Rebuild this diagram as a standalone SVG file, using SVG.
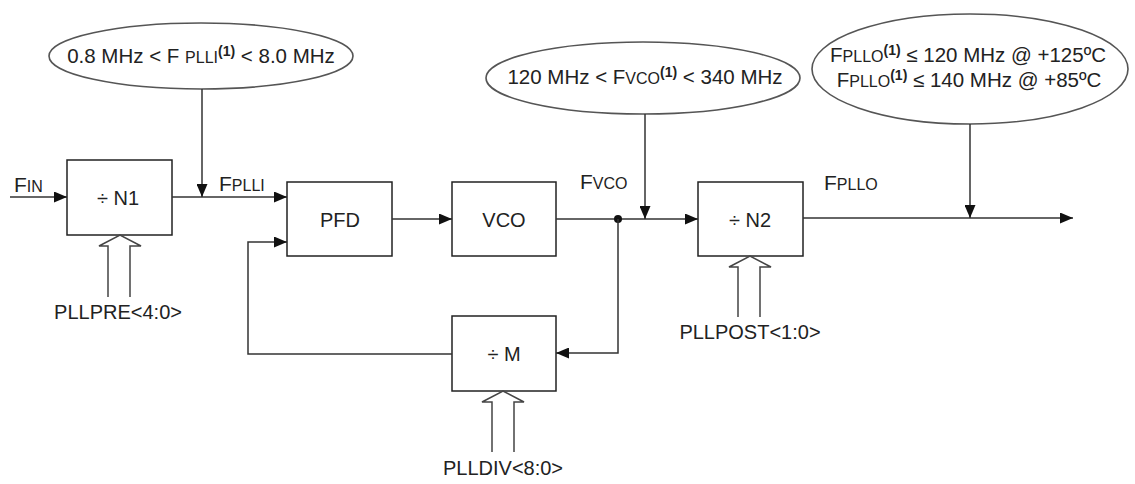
<svg xmlns="http://www.w3.org/2000/svg" width="1135" height="484" viewBox="0 0 1135 484">
<style>
.box{fill:#fff;stroke:#222;stroke-width:1.5}
.ell{fill:#fff;stroke:#555;stroke-width:1.6}
.ln{fill:none;stroke:#333;stroke-width:1.5}
.bus{fill:#fff;stroke:#444;stroke-width:1.5;stroke-linejoin:miter}
text{font-family:"Liberation Sans",Arial,sans-serif;fill:#222;font-size:20px}
.c{text-anchor:middle}
.et{font-size:20.5px}
.sm{font-size:16px}
.sup{font-size:14px;font-weight:bold}
.bl{font-size:20px}
.fl{font-size:21px}
</style>
<defs>
<marker id="ah" markerUnits="userSpaceOnUse" markerWidth="13" markerHeight="11" refX="13" refY="5.5" orient="auto">
<path d="M0,0 L13,5.5 L0,11 z" fill="#111"/>
</marker>
</defs>

<g id="ellipse-fplli">
<ellipse class="ell" cx="201" cy="56" rx="152" ry="33"/>
<text class="c et" x="201" y="63">0.8 MHz &lt; F <tspan class="sm">PLLI</tspan><tspan class="sup" dy="-7">(1)</tspan><tspan dy="7"> &lt; 8.0 MHz</tspan></text>
</g>
<g id="ellipse-fvco">
<ellipse class="ell" cx="643" cy="78" rx="157" ry="36"/>
<text class="c et" x="645" y="84">120 MHz &lt; F<tspan class="sm">VCO</tspan><tspan class="sup" dy="-7">(1)</tspan><tspan dy="7"> &lt; 340 MHz</tspan></text>
</g>
<g id="ellipse-fpllo">
<ellipse class="ell" cx="970" cy="69" rx="158" ry="55"/>
<text class="c et" x="968" y="62">F<tspan class="sm">PLLO</tspan><tspan class="sup" dy="-7">(1)</tspan><tspan dy="7"> ≤ 120 MHz @ +125ºC</tspan></text>
<text class="c et" x="969" y="87">F<tspan class="sm">PLLO</tspan><tspan class="sup" dy="-7">(1)</tspan><tspan dy="7"> ≤ 140 MHz @ +85ºC</tspan></text>
</g>

<g id="n1">
<rect class="box" x="67" y="160" width="105" height="75"/>
<text class="c" x="118" y="205">÷ N1</text>
</g>
<g id="pfd">
<rect class="box" x="287" y="182" width="105" height="74"/>
<text class="c" x="340" y="227">PFD</text>
</g>
<g id="vco">
<rect class="box" x="452" y="182" width="104" height="74"/>
<text class="c" x="504" y="227">VCO</text>
</g>
<g id="n2">
<rect class="box" x="698" y="182" width="105" height="74"/>
<text class="c" x="750" y="227">÷ N2</text>
</g>
<g id="m">
<rect class="box" x="452" y="316" width="104" height="75"/>
<text class="c" x="504" y="361">÷ M</text>
</g>

<g id="connectors">
<line class="ln" x1="10" y1="197" x2="67" y2="197" marker-end="url(#ah)"/>
<line class="ln" x1="172" y1="197" x2="287" y2="197" marker-end="url(#ah)"/>
<line class="ln" x1="202" y1="89" x2="202" y2="197" marker-end="url(#ah)"/>
<line class="ln" x1="392" y1="219" x2="452" y2="219" marker-end="url(#ah)"/>
<line class="ln" x1="556" y1="219" x2="698" y2="219" marker-end="url(#ah)"/>
<line class="ln" x1="645" y1="114" x2="645" y2="219" marker-end="url(#ah)"/>
<circle cx="618" cy="219" r="4" fill="#111"/>
<polyline class="ln" points="618,219 618,353 556,353" marker-end="url(#ah)"/>
<polyline class="ln" points="452,354 248,354 248,242 287,242" marker-end="url(#ah)"/>
<line class="ln" x1="803" y1="218" x2="1073" y2="218" marker-end="url(#ah)"/>
<line class="ln" x1="970" y1="124" x2="970" y2="218" marker-end="url(#ah)"/>
<polyline class="bus" points="108,297 108,246 99,246 120,235 141,246 130,246 130,297"/>
<polyline class="bus" points="492,452 492,402 482,402 503,391 524,402 514,402 514,452"/>
<polyline class="bus" points="738,317 738,267 729,267 750,256 771,267 760,267 760,317"/>
</g>

<g id="labels">
<text class="fl" x="14" y="192">F<tspan class="sm">IN</tspan></text>
<text class="fl" x="219" y="191">F<tspan class="sm">PLLI</tspan></text>
<text class="fl" x="580" y="189">F<tspan class="sm">VCO</tspan></text>
<text class="fl" x="824" y="190">F<tspan class="sm">PLLO</tspan></text>
<text class="c bl" x="118" y="319">PLLPRE&lt;4:0&gt;</text>
<text class="c bl" x="503" y="475">PLLDIV&lt;8:0&gt;</text>
<text class="c bl" x="750" y="339">PLLPOST&lt;1:0&gt;</text>
</g>
</svg>
